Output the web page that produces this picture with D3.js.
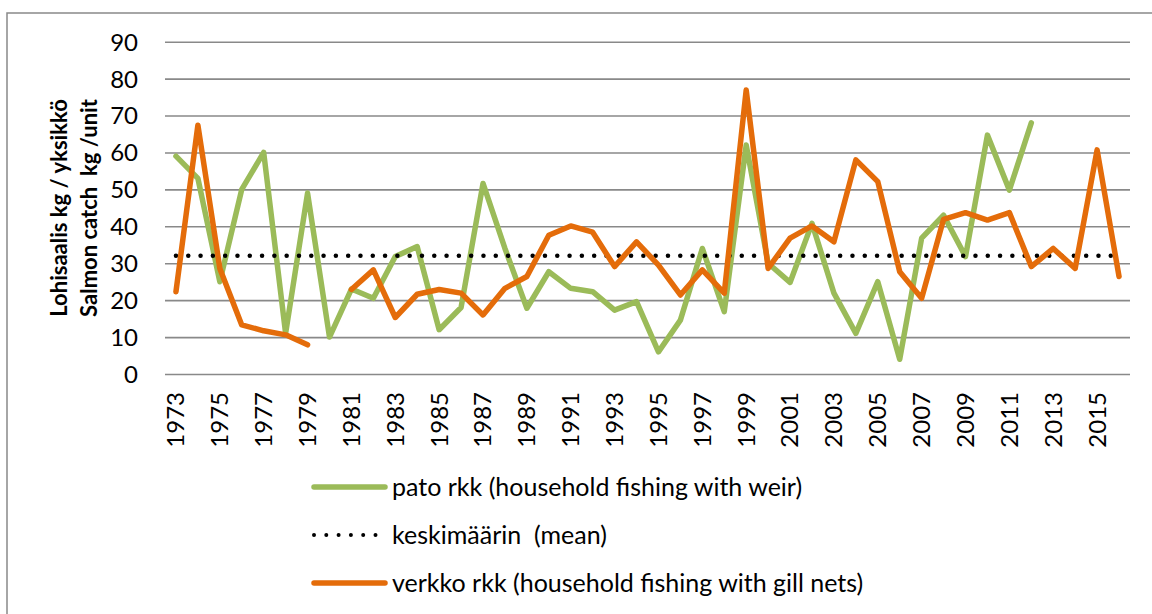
<!DOCTYPE html>
<html>
<head>
<meta charset="utf-8">
<script src="https://cdn.jsdelivr.net/npm/d3@7"></script>
<style>
  body { margin: 0; background: #fff; }
  text { font-family: Lato, "Open Sans", sans-serif; fill: #000; white-space: pre; }
</style>
</head>
<body>
<div id="chart"></div>
<script>
var years = d3.range(1973, 2017);

// pato rkk (household fishing with weir)
var weir = [59, 53, 25, 50, 60, 11, 49, 10, 23, 20.5, 31.8, 34.5, 12, 18,
  51.6, 34, 17.8, 27.7, 23.2, 22.3, 17.3, 19.6, 6, 14.6, 34, 16.9, 62, 30,
  24.8, 40.8, 21.9, 11, 25, 4, 36.8, 43, 31.8, 64.7, 49.8, 68,
  null, null, null, null];

// verkko rkk (household fishing with gill nets)
var gillnet = [22.3, 67.4, 28.6, 13.3, 11.7, 10.6, 7.9, null, 22.9, 28.2, 15.3, 21.6,
  22.9, 21.9, 16, 23.2, 26.4, 37.6, 40.1, 38.4, 29.1, 35.8, 29.5, 21.4, 28.2,
  21.9, 76.9, 28.6, 36.8, 40.1, 35.8, 58, 52.1, 27.7, 20.5, 41.9, 43.7, 41.7,
  43.7, 29.1, 34, 28.6, 60.7, 26.4];

var meanValue = 32;

var yTicks = d3.range(0, 100, 10);
var xLabels = years.filter(function(d, i) { return i % 2 == 0; });

var legendItems = [
  { label: 'pato rkk (household fishing with weir)', color: '#9bbb59', dotted: false },
  { label: 'keskimäärin  (mean)', color: '#000', dotted: true },
  { label: 'verkko rkk (household fishing with gill nets)', color: '#e46c0a', dotted: false }
];

var W = 1152, H = 614;
var plot = { left: 165, right: 1130, top: 41.7, bottom: 374 };

var svg = d3.select('#chart').append('svg')
  .attr('width', W)
  .attr('height', H);

// outer frame (runs off the right and bottom edges)
svg.append('rect')
  .attr('x', 7).attr('y', 13)
  .attr('width', W + 10).attr('height', H + 10)
  .attr('fill', 'none')
  .attr('stroke', '#898989')
  .attr('stroke-width', 1.5);

var x = d3.scaleBand()
  .domain(years)
  .range([plot.left, plot.right]);

var y = d3.scaleLinear()
  .domain([0, 90])
  .range([plot.bottom, plot.top]);

function cx(d) { return x(d) + x.bandwidth() / 2; }

// gridlines + y labels
var yAxis = d3.axisLeft(y)
  .tickValues(yTicks)
  .tickSize(-(plot.right - plot.left))
  .tickPadding(27);

var gy = svg.append('g')
  .attr('transform', 'translate(' + plot.left + ',0)')
  .call(yAxis);
gy.select('.domain').remove();
gy.selectAll('line')
  .attr('stroke', '#898989')
  .attr('stroke-width', 1.6);
gy.selectAll('text')
  .style('font-size', '24px')
  .attr('dy', '0.35em');

// x labels
var xAxis = d3.axisBottom(x)
  .tickValues(xLabels)
  .tickSize(0);

var gx = svg.append('g')
  .attr('transform', 'translate(0,' + plot.bottom + ')')
  .call(xAxis);
gx.select('.domain').remove();
gx.selectAll('text')
  .style('font-size', '24px')
  .attr('text-anchor', 'end')
  .attr('transform', 'rotate(-90)')
  .attr('x', -18)
  .attr('y', 0)
  .attr('dy', '0.35em');

// y axis title
var ytitle = svg.append('text')
  .attr('transform', 'translate(0,208) rotate(-90)')
  .attr('text-anchor', 'middle')
  .style('font-size', '22px')
  .style('font-weight', 'bold');
ytitle.append('tspan').attr('x', 0).attr('y', 67).text('Lohisaalis kg / yksikkö');
ytitle.append('tspan').attr('x', 0).attr('y', 97).text('Salmon catch  kg /unit');

// series
var line = d3.line()
  .defined(function(d) { return d[1] != null; })
  .x(function(d) { return cx(d[0]); })
  .y(function(d) { return y(d[1]); });

svg.append('path')
  .datum(years.map(function(yr, i) { return [yr, weir[i]]; }))
  .attr('d', line)
  .attr('fill', 'none')
  .attr('stroke', '#9bbb59')
  .attr('stroke-width', 5.5)
  .attr('stroke-linejoin', 'round')
  .attr('stroke-linecap', 'round');

svg.append('path')
  .datum(years.map(function(yr) { return [yr, meanValue]; }))
  .attr('d', line)
  .attr('fill', 'none')
  .attr('stroke', '#000')
  .attr('stroke-width', 4.5)
  .attr('stroke-linecap', 'round')
  .attr('stroke-dasharray', '0 12.3');

svg.append('path')
  .datum(years.map(function(yr, i) { return [yr, gillnet[i]]; }))
  .attr('d', line)
  .attr('fill', 'none')
  .attr('stroke', '#e46c0a')
  .attr('stroke-width', 5.5)
  .attr('stroke-linejoin', 'round')
  .attr('stroke-linecap', 'round');

// legend
var legend = svg.append('g')
  .attr('transform', 'translate(314,487)');

var item = legend.selectAll('g')
  .data(legendItems)
  .enter().append('g')
  .attr('transform', function(d, i) { return 'translate(0,' + (i * 48) + ')'; });

item.append('line')
  .attr('x1', 0).attr('x2', 71)
  .attr('stroke', function(d) { return d.color; })
  .attr('stroke-width', function(d) { return d.dotted ? 4 : 5.5; })
  .attr('stroke-linecap', 'round')
  .attr('stroke-dasharray', function(d) { return d.dotted ? '0 12.3' : null; });

item.append('text')
  .attr('x', 78)
  .attr('dy', '0.35em')
  .style('font-size', '25px')
  .text(function(d) { return d.label; });
</script>
</body>
</html>
